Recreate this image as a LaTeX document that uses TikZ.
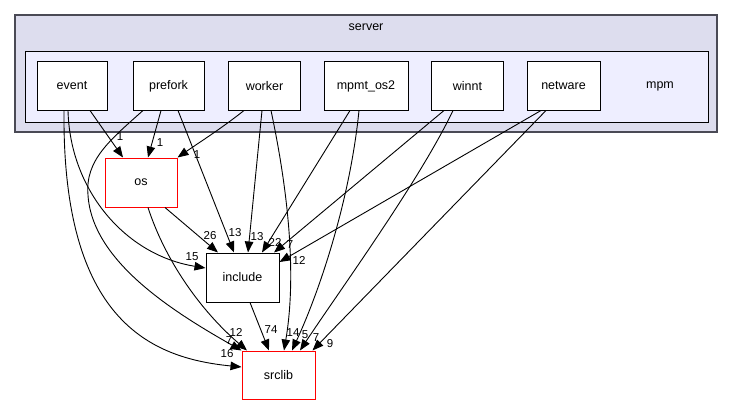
\documentclass[tikz,border=0pt]{standalone}
\usepackage{fontspec}
\setmainfont{Liberation Sans}
\usetikzlibrary{arrows.meta}
\definecolor{outerfill}{HTML}{DDDDEE}
\definecolor{innerfill}{HTML}{EEEEFF}
\definecolor{outerdraw}{HTML}{4A4A55}
\tikzset{
  dirbox/.style={draw=black, fill=white, line width=1pt, minimum height=48pt, inner sep=0pt, font=\fontsize{12.5}{14}\selectfont},
  redbox/.style={dirbox, draw=red},
  dep/.style={draw=black, line width=0.9pt, -{Triangle[length=11pt,width=8.5pt]}},
  lbl/.style={inner sep=0pt, font=\fontsize{11.5}{13}\selectfont},
  clabel/.style={inner sep=0pt, font=\fontsize{12.5}{14}\selectfont}
}
\begin{document}
\begin{tikzpicture}[x=1pt,y=-1pt]
\useasboundingbox (0,0) rectangle (733,404);
% clusters
\draw[fill=outerfill, draw=outerdraw, line width=1.3pt] (15,15) rectangle (717,132);
\node[clabel] (serverlbl) at (366,27) {server};
\draw[fill=innerfill, draw=black, line width=1pt] (25,52) rectangle (708,122);
\node[clabel] (mpmlbl) at (660,86) {mpm};
% nodes
\node[dirbox, minimum width=70pt] (event) at (72,86) {event};
\node[dirbox, minimum width=71pt] (prefork) at (168.5,86) {prefork};
\node[dirbox, minimum width=72pt] (worker) at (264.5,86) {worker};
\node[dirbox, minimum width=84pt] (mpmt) at (366,86) {mpmt\_os2};
\node[dirbox, minimum width=72pt] (winnt) at (467.5,86) {winnt};
\node[dirbox, minimum width=73pt] (netware) at (563.5,86) {netware};
\node[redbox, minimum width=72pt, minimum height=49pt] (os) at (141,182.5) {os};
\node[dirbox, minimum width=73pt, minimum height=49pt] (include) at (242.5,277.5) {include};
\node[redbox, minimum width=73pt] (srclib) at (278.5,375) {srclib};
% event
\draw[dep] ([xshift=18pt]event.south) -- ([xshift=-18pt]os.north);
\draw[dep] ([xshift=-4pt]event.south) .. controls (70,190) and (125,255) .. ([yshift=9.5pt]include.west);
\draw[dep] ([xshift=-8pt]event.south) .. controls (62,320) and (150,358) .. ([yshift=8pt]srclib.west);
% prefork
\draw[dep] ([xshift=-7.5pt]prefork.south) -- ([xshift=7pt]os.north);
\draw[dep] ([xshift=9.5pt]prefork.south) -- ([xshift=-8.5pt]include.north);
\draw[dep] ([xshift=-25.5pt]prefork.south) .. controls (110,140) and (85,160) .. (88,195) .. controls (92,260) and (170,310) .. (srclib.north west);
% worker
\draw[dep] ([xshift=-20.5pt]worker.south) .. controls (222,128) and (200,142) .. (os.north east);
\draw[dep] ([xshift=-2.5pt]worker.south) -- ([xshift=5.5pt]include.north);
\draw[dep] ([xshift=6.5pt]worker.south) .. controls (290,200) and (296,280) .. ([xshift=5.5pt]srclib.north);
% mpmt_os2
\draw[dep] ([xshift=-16pt]mpmt.south) -- ([xshift=19.5pt]include.north);
\draw[dep] ([xshift=-7pt]mpmt.south) .. controls (350,200) and (320,290) .. ([xshift=13.5pt]srclib.north);
% winnt
\draw[dep] ([xshift=-23.5pt]winnt.south) -- ([xshift=31.5pt]include.north);
\draw[dep] ([xshift=-14.5pt]winnt.south) .. controls (420,180) and (340,290) .. ([xshift=21.5pt]srclib.north);
% netware
\draw[dep] ([xshift=-22.5pt]netware.south) -- ([yshift=15.5pt]include.east);
\draw[dep] ([xshift=-17.5pt]netware.south) -- ([xshift=34pt]srclib.north);
% os
\draw[dep] ([xshift=24pt]os.south) -- ([xshift=-24.5pt]include.north);
\draw[dep] ([xshift=7pt]os.south) .. controls (165,260) and (200,310) .. ([xshift=-31.5pt]srclib.north);
% include
\draw[dep] ([xshift=7.5pt]include.south) -- ([xshift=-9.5pt]srclib.north);
% labels
\node[lbl] (l1) at (120,137) {1};
\node[lbl] (l2) at (160,143) {1};
\node[lbl] (l3) at (197,155) {1};
\node[lbl] (l4) at (210,236) {26};
\node[lbl] (l5) at (235,233) {13};
\node[lbl] (l6) at (257,237) {13};
\node[lbl] (l7) at (275,242) {22};
\node[lbl] (l8) at (290,245) {7};
\node[lbl] (l9) at (299,260) {12};
\node[lbl] (l10) at (192,257) {15};
\node[lbl] (l11) at (271,330) {74};
\node[lbl] (l12) at (293,333) {14};
\node[lbl] (l13) at (305,335) {5};
\node[lbl] (l14) at (316,338) {7};
\node[lbl] (l15) at (330,344) {9};
\node[lbl] (l16) at (236,332) {12};
\node[lbl] (l17) at (229,341) {7};
\node[lbl] (l18) at (227,354) {16};
\end{tikzpicture}
\end{document}
